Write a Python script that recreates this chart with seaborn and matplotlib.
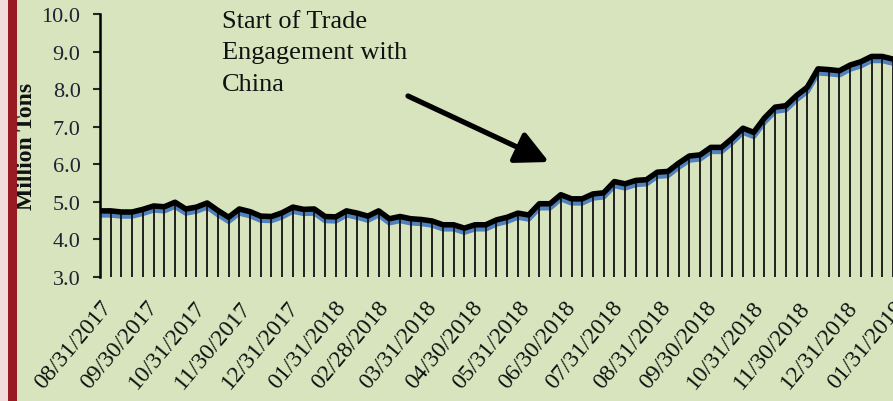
import pandas as pd
import numpy as np
import seaborn as sns
import matplotlib.pyplot as plt
from matplotlib.patches import Rectangle
from matplotlib.transforms import offset_copy

# weekly data, Million Tons
start_date = "2017-08-31"
tons = [4.76, 4.76, 4.73, 4.73, 4.80, 4.89, 4.87, 4.99, 4.81, 4.86,
        4.97, 4.77, 4.59, 4.81, 4.74, 4.62, 4.61, 4.71, 4.86, 4.80,
        4.81, 4.61, 4.60, 4.76, 4.70, 4.62, 4.76, 4.55, 4.61, 4.55,
        4.53, 4.49, 4.39, 4.39, 4.30, 4.39, 4.39, 4.52, 4.59, 4.70,
        4.65, 4.95, 4.95, 5.19, 5.08, 5.08, 5.21, 5.24, 5.54, 5.48,
        5.57, 5.59, 5.79, 5.81, 6.03, 6.22, 6.25, 6.45, 6.45, 6.69,
        6.96, 6.85, 7.23, 7.52, 7.56, 7.83, 8.05, 8.54, 8.52, 8.49,
        8.64, 8.73, 8.87, 8.87, 8.80]
tick_labels = ["08/31/2017", "09/30/2017", "10/31/2017", "11/30/2017",
               "12/31/2017", "01/31/2018", "02/28/2018", "03/31/2018",
               "04/30/2018", "05/31/2018", "06/30/2018", "07/31/2018",
               "08/31/2018", "09/30/2018", "10/31/2018", "11/30/2018",
               "12/31/2018", "01/31/2019"]
y_ticks = [3, 4, 5, 6, 7, 8, 9, 10]

df = pd.DataFrame({"week": pd.date_range(start_date, periods=len(tons), freq="7D"),
                   "tons": tons})
tick_dates = pd.to_datetime(tick_labels, format="%m/%d/%Y")

bg = "#D7E4BD"
sns.set_style("ticks", {"axes.facecolor": bg, "figure.facecolor": bg})
plt.rcParams["font.family"] = ["Liberation Serif", "DejaVu Serif"]

fig = plt.figure(figsize=(8.93, 4.02), dpi=100)
ax = fig.add_axes([100 / 893, 1 - 278 / 402, 793 / 893, 263 / 402])

# left border decoration
fig.patches.append(Rectangle((0, 0), 8 / 893, 1, transform=fig.transFigure,
                             facecolor="#F2DCDB", edgecolor="none", zorder=0))
fig.patches.append(Rectangle((8 / 893, 0), 9 / 893, 1, transform=fig.transFigure,
                             facecolor="#981B24", edgecolor="none", zorder=0))

# blue shadow line, a few pixels below the black one
shadow = offset_copy(ax.transData, fig=fig, x=0, y=-4, units="dots")
sns.lineplot(data=df, x="week", y="tons", color="#4F81BD", lw=4,
             transform=shadow, ax=ax, zorder=2)
ax.vlines(df["week"], 3, df["tons"], color="#111111", lw=1.3, zorder=3)
sns.lineplot(data=df, x="week", y="tons", color="black", lw=4, ax=ax, zorder=4)

ax.set_ylim(3, 10)
ax.set_xlim(df["week"].iloc[0], df["week"].iloc[0] + pd.Timedelta(days=516))
ax.set_yticks(y_ticks)
ax.set_yticklabels([f"{v:.1f}" for v in y_ticks], fontsize=16, color="#1E2233")
ax.set_xticks(tick_dates)
ax.set_xticklabels(tick_labels, rotation=50, ha="right", va="top",
                   rotation_mode="anchor", fontsize=17, color="#111111")
ax.tick_params(axis="x", length=0, pad=14)
ax.tick_params(axis="y", direction="out", length=5, width=1.5, pad=9)

for side in ["top", "right", "bottom"]:
    ax.spines[side].set_visible(False)
ax.spines["left"].set_linewidth(1.8)
ax.spines["left"].set_color("black")

ax.set_xlabel("")
ax.set_ylabel("Million Tons", fontsize=17, fontweight="bold", color="#111111")
ax.yaxis.set_label_coords(-0.079, 0.5)

# annotation
fig.text(222 / 893, 1 - 11 / 402, "Start of Trade\nEngagement with\nChina",
         ha="left", va="top", fontsize=19, linespacing=1.55, color="#111111")
ax.annotate("", xy=(549, 402 - 163), xytext=(408, 402 - 97),
            xycoords="figure pixels", textcoords="figure pixels",
            arrowprops=dict(arrowstyle="-|>,head_length=1.0,head_width=0.5",
                            lw=3.8, color="black", mutation_scale=20,
                            shrinkA=0, shrinkB=0))

plt.savefig("out.png", dpi=100, facecolor=bg)
